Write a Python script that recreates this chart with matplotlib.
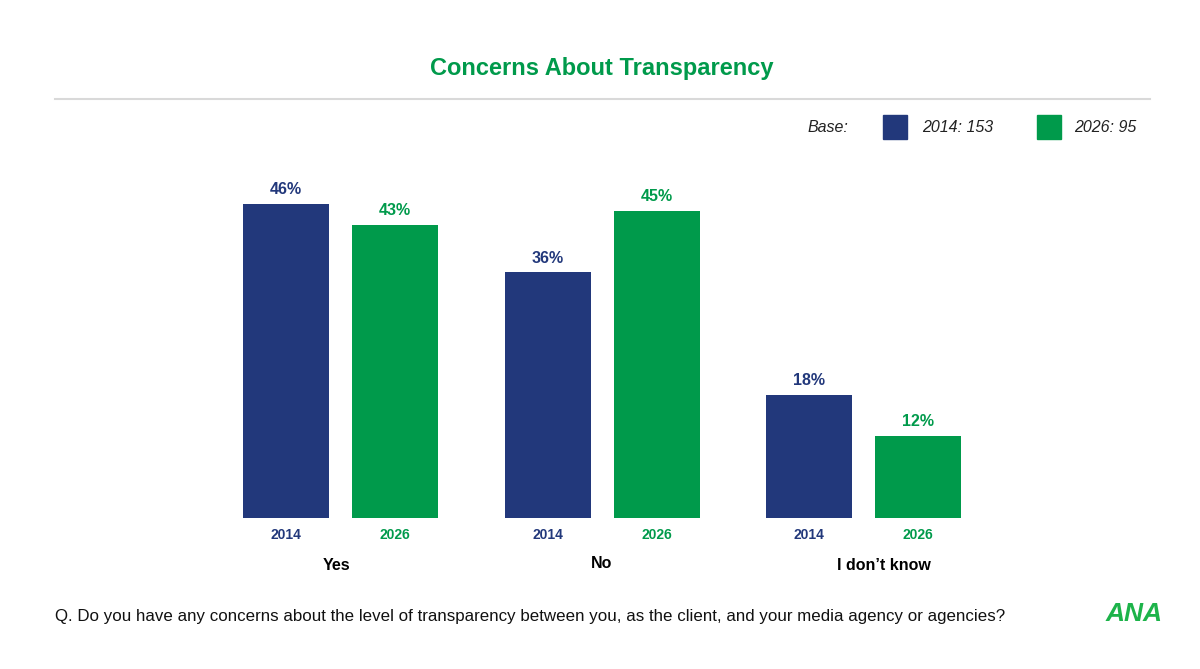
import matplotlib
matplotlib.use("Agg")
import matplotlib.pyplot as plt
from matplotlib.patches import Rectangle
import numpy as np

plt.rcParams['font.family'] = ['Liberation Sans', 'DejaVu Sans']

# data
categories = ["Yes", "No", "I don\u2019t know"]
years = ["2014", "2026"]
vals_2014 = [46, 36, 18]
vals_2026 = [43, 45, 12]
bases = ["2014: 153", "2026: 95"]

NAVY = "#22387b"
GREEN = "#009a4b"

fig = plt.figure(figsize=(12, 6.69), dpi=100)
W, H = 1200, 669

def fx(px):
    return px / W

def fy(py):
    return 1 - py / H

# plot area: bottom at y=518 px, 6.82 px per percentage point
ymax = 50
ax_left, ax_right = 100, 1100
ax_bot = 518
ax_top = ax_bot - ymax * 6.82
ax = fig.add_axes([fx(ax_left), fy(ax_bot), fx(ax_right - ax_left), (ax_bot - ax_top) / H])

unit = 261.5
x = np.arange(len(categories))
left = -(340.5 - ax_left) / unit
ax.set_xlim(left, left + (ax_right - ax_left) / unit)
ax.set_ylim(0, ymax)
ax.axis("off")

bw = 86 / unit
off = 54.5 / unit
b1 = ax.bar(x - off, vals_2014, width=bw, color=NAVY)
b2 = ax.bar(x + off, vals_2026, width=bw, color=GREEN)

for bars, vals, col in [(b1, vals_2014, NAVY), (b2, vals_2026, GREEN)]:
    for b, v in zip(bars, vals):
        ax.annotate(f"{v}%", (b.get_x() + b.get_width() / 2, v), xytext=(0, 5),
                    textcoords="offset points", ha="center", va="bottom",
                    fontsize=11.5, fontweight="bold", color=col)

# year labels under each bar
for xi in x:
    ax.annotate(years[0], (xi - off, 0), xytext=(0, -7.5), textcoords="offset points",
                ha="center", va="top", fontsize=10, fontweight="bold", color=NAVY)
    ax.annotate(years[1], (xi + off, 0), xytext=(0, -7.5), textcoords="offset points",
                ha="center", va="top", fontsize=10, fontweight="bold", color=GREEN)

# category labels (slightly offset as in the reference)
cat_px = [336, 602, 884]
cat_py = [566, 563, 566]
for c, px, py in zip(categories, cat_px, cat_py):
    fig.text(fx(px), fy(py), c, ha="center", va="center", fontsize=11.5,
             fontweight="bold", color="black")

# title and rule
fig.text(fx(602), fy(68), "Concerns About Transparency", ha="center", va="center",
         fontsize=17, fontweight="bold", color=GREEN)
fig.add_artist(plt.Line2D([fx(55), fx(1150)], [fy(99), fy(99)], color="#d9d9d9", lw=1.5))

# legend
fig.text(fx(848), fy(127), "Base:", ha="right", va="center", fontsize=11.5,
         style="italic", color="#222222")
for sq_x, col, lab, tx in [(883, NAVY, bases[0], 922), (1037, GREEN, bases[1], 1074)]:
    fig.add_artist(Rectangle((fx(sq_x), fy(139)), fx(24), 24 / H, color=col,
                             transform=fig.transFigure))
    fig.text(fx(tx), fy(127), lab, ha="left", va="center", fontsize=11.5,
             style="italic", color="#222222")

# footnote
fig.text(fx(55), fy(616), "Q. Do you have any concerns about the level of transparency between you, "
         "as the client, and your media agency or agencies?", ha="left", va="center",
         fontsize=12.2, color="#111111")

# logo
fig.text(fx(1134), fy(614), "ANA", ha="center", va="center", fontsize=19,
         fontweight="bold", color="#1db34a", style="italic")

fig.savefig("out.png", dpi=100)
